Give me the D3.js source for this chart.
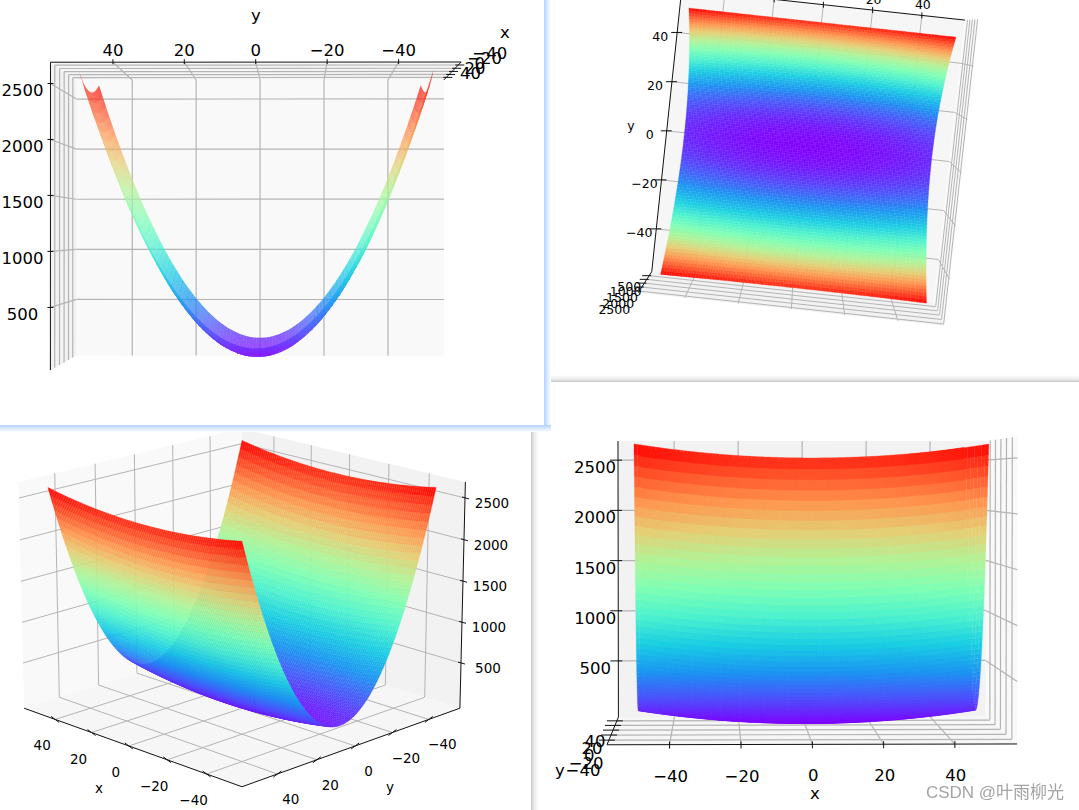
<!DOCTYPE html>
<html><head><meta charset="utf-8">
<style>html,body{margin:0;padding:0;background:#fff}svg{display:block;filter:blur(.35px)}text{font-family:"DejaVu Sans",sans-serif;fill:#000}</style>
<script src="https://cdn.jsdelivr.net/npm/d3@7/dist/d3.min.js"></script>
</head><body><div id="chart"></div>
<script>
// ---------- data ----------
const xGrid=[-50,-49,-48,-47,-46,-45,-44,-43,-42,-41,-40,-39,-38,-37,-36,-35,-34,-33,-32,-31,-30,-29,-28,-27,-26,-25,-24,-23,-22,-21,-20,-19,-18,-17,-16,-15,-14,-13,-12,-11,-10,-9,-8,-7,-6,-5,-4,-3,-2,-1,0,1,2,3,4,5,6,7,8,9,10,11,12,13,14,15,16,17,18,19,20,21,22,23,24,25,26,27,28,29,30,31,32,33,34,35,36,37,38,39,40,41,42,43,44,45,46,47,48,49,50];
const yGrid=xGrid.slice();
// height contributed by the x position (shallow bow of the valley)
const zAlongX=[125,120.05,115.2,110.45,105.8,101.25,96.8,92.45,88.2,84.05,80,76.05,72.2,68.45,64.8,61.25,57.8,54.45,51.2,48.05,45,42.05,39.2,36.45,33.8,31.25,28.8,26.45,24.2,22.05,20,18.05,16.2,14.45,12.8,11.25,9.8,8.45,7.2,6.05,5,4.05,3.2,2.45,1.8,1.25,0.8,0.45,0.2,0.05,0,0.05,0.2,0.45,0.8,1.25,1.8,2.45,3.2,4.05,5,6.05,7.2,8.45,9.8,11.25,12.8,14.45,16.2,18.05,20,22.05,24.2,26.45,28.8,31.25,33.8,36.45,39.2,42.05,45,48.05,51.2,54.45,57.8,61.25,64.8,68.45,72.2,76.05,80,84.05,88.2,92.45,96.8,101.25,105.8,110.45,115.2,120.05,125];
// height contributed by the y position (the steep valley walls)
const zAlongY=[2500,2401,2304,2209,2116,2025,1936,1849,1764,1681,1600,1521,1444,1369,1296,1225,1156,1089,1024,961,900,841,784,729,676,625,576,529,484,441,400,361,324,289,256,225,196,169,144,121,100,81,64,49,36,25,16,9,4,1,0,1,4,9,16,25,36,49,64,81,100,121,144,169,196,225,256,289,324,361,400,441,484,529,576,625,676,729,784,841,900,961,1024,1089,1156,1225,1296,1369,1444,1521,1600,1681,1764,1849,1936,2025,2116,2209,2304,2401,2500];
const xTicks=[-40,-20,0,20,40];
const yTicks=[-40,-20,0,20,40];
const zTicks=[500,1000,1500,2000,2500];
const xLim=[-57.5,57.5], yLim=[-57.5,57.5], zLim=[-60,2690];
const colorDomain=[0,0.1,0.2,0.3,0.4,0.5,0.6,0.7,0.8,0.9,1];
const rainbowStops=["#8000ff","#4d4ffc","#1a96f2","#1acee3","#4df2ce","#80ffb4","#b3f296","#e6ce74","#ff964f","#ff4f28","#ff0000"];

// ---------- scales ----------
const norm={x:d3.scaleLinear().domain(xLim).range([-.5,.5]),
            y:d3.scaleLinear().domain(yLim).range([-.5,.5]),
            z:d3.scaleLinear().domain(zLim).range([-.375,.375])};
const zFrac=d3.scaleLinear().domain([0,2625]).range([0,1]);
const color=d3.scaleLinear().domain(colorDomain).range(rainbowStops).interpolate(d3.interpolateRgb);
const lim={x:xLim,y:yLim,z:zLim}, ticksOf={x:xTicks,y:yTicks,z:zTicks};
const fmt=v=>String(v).replace("-","\u2212");
const paneFill={x:"#f9f9f9",y:"#f2f2f2",z:"#f6f6f6"};

// ---------- layout of the four views ----------
const views=[
 {id:"br",clip:[537,382,542,428],el:1.7,az:-91.5,S:388,zs:1,cx:807,cy:584.5,font:16.5,grid:1.2,seam:.3,
  walls:[["x",1],["y",1],["z",-1]],
  axes:{x:{fix:{y:-1,z:-1},off:[1,31.5],spread:0,tick:[0,-3,0,4]},
        y:{fix:{x:-1,z:-1},off:[-24,26],spread:.5,tick:[-10,0,6,0]},
        z:{fix:{x:-1,y:1},off:[-23,7.5],spread:0,tick:[-8,0,4,0]}},
  names:[["x",815,793],["y",560,770]]},
 {id:"bl",clip:[0,430,531,380],el:17.2,az:135,S:312,zs:1.012,cx:242,cy:596.5,font:13.5,grid:1,seam:.25,
  walls:[["x",1],["y",-1],["z",-1]],
  axes:{x:{fix:{y:1,z:-1},off:[-13,26],spread:0,tick:[-4,-3,4,3]},
        y:{fix:{x:-1,z:-1},off:[13.5,25],spread:0,tick:[-4,3,4,-3]},
        z:{fix:{x:-1,y:-1},off:[27,5],spread:0,tick:[-3,-1,4,1]}},
  names:[["x",99,788],["y",390,787]]},
 {id:"tr",clip:[545,0,534,376],el:92.6,az:-83.8,flip:true,S:296,zs:1,cx:808,cy:151,font:12.5,grid:1,seam:.3,
  walls:[["x",1],["y",-1],["z",-1]],
  axes:{x:{fix:{y:1,z:-1},off:[1,-10.5],spread:0,tick:[0,-3,0,3]},
        y:{fix:{x:-1,z:-1},off:[-17,4],spread:0,tick:[-6,0,5,0]},
        z:{fix:{x:-1,y:-1},off:[-22,14],spread:.5,tick:[-7,0,2,0]}},
  names:[["y",631,125]]},
 {id:"tl",clip:[0,0,544,425],el:-.24,az:180.64,S:388,zs:1,cx:258,cy:217,font:16.5,grid:1.2,seam:0,
  walls:[["x",1],["y",1],["z",1]],
  axes:{x:{fix:{y:-1,z:1},off:[28,-8],spread:.6,tick:[-3,0,6,0]},
        y:{fix:{x:-1,z:1},off:[0,-12],spread:0,tick:[0,-3,0,2]},
        z:{fix:{x:-1,y:1},off:[-28,7],spread:0,tick:[-3,0,3,0]}},
  names:[["y",256,15],["x",505,32]]}
];

function camera(v){
  const r=Math.PI/180,e=v.el*r,a=v.az*r,d=9;
  const w=[Math.cos(e)*Math.cos(a),Math.cos(e)*Math.sin(a),Math.sin(e)];
  const V=v.flip?-1:1;
  let u=[-V*w[1],V*w[0],0];
  const n=Math.hypot(u[0],u[1]);u=[u[0]/n,u[1]/n,0];
  const up=[w[1]*u[2]-w[2]*u[1],w[2]*u[0]-w[0]*u[2],w[0]*u[1]-w[1]*u[0]];
  const dot=(p,q)=>p[0]*q[0]+p[1]*q[1]+p[2]*q[2];
  return (x,y,z)=>{
    const p=[norm.x(x),norm.y(y),norm.z(z)*v.zs],k=d/(d-dot(p,w));
    return [v.cx+v.S*dot(p,u)*k, v.cy-v.S*dot(p,up)*k, dot(p,w)];
  };
}

const svg=d3.select("#chart").append("svg").attr("width",1079).attr("height",810);
const defs=svg.append("defs");
function grad(id,x2,y2,stops){
  const g=defs.append("linearGradient").attr("id",id).attr("x1",0).attr("y1",0).attr("x2",x2).attr("y2",y2);
  stops.forEach(s=>g.append("stop").attr("offset",s[0]).attr("stop-color",s[1]));
}
grad("shGrayDown",0,1,[[0,"#ffffff"],[.6,"#ececec"],[1,"#c8c8c8"]]);
grad("shGrayRight",1,0,[[0,"#c8c8c8"],[.4,"#ececec"],[1,"#ffffff"]]);
grad("glowRight",1,0,[[0,"#b4d3ff"],[.5,"#dceaff"],[1,"#ffffff"]]);
grad("glowDown",0,1,[[0,"#b4d3ff"],[.5,"#dceaff"],[1,"#ffffff"]]);

const line=d3.line();
const coord=(axis,val,o)=>{const c={x:0,y:0,z:0};c[axis]=val;Object.assign(c,o);return c;};
const side=(a,s)=>s>0?lim[a][1]:lim[a][0];

function drawView(v){
  const P=camera(v), pt=c=>P(c.x,c.y,c.z);
  defs.append("clipPath").attr("id","clip-"+v.id).append("rect")
    .attr("x",v.clip[0]).attr("y",v.clip[1]).attr("width",v.clip[2]).attr("height",v.clip[3]);
  const g=svg.append("g").attr("clip-path",`url(#clip-${v.id})`);
  g.append("rect").attr("x",v.clip[0]).attr("y",v.clip[1]).attr("width",v.clip[2]).attr("height",v.clip[3]).attr("fill","#fff");

  // panes and grid
  v.walls.forEach(([a,s])=>{
    const [b,c]=["x","y","z"].filter(k=>k!==a), val=side(a,s);
    const corner=(bv,cv)=>{const o={};o[a]=val;o[b]=bv;o[c]=cv;return pt(o).slice(0,2);};
    const [b0,b1]=lim[b],[c0,c1]=lim[c];
    g.append("path").attr("d",line([corner(b0,c0),corner(b1,c0),corner(b1,c1),corner(b0,c1)])+"Z")
      .attr("fill",paneFill[a]);
    const segs=[...ticksOf[b].map(t=>[corner(t,c0),corner(t,c1)]),...ticksOf[c].map(t=>[corner(b0,t),corner(b1,t)])];
    g.selectAll(null).data(segs).join("path").attr("d",line).attr("fill","none")
      .attr("stroke","#b4b4b4").attr("stroke-width",v.grid);
  });

  // axes, ticks, tick labels
  ["x","y","z"].forEach(a=>{
    const cfg=v.axes[a];
    const fixed=Object.fromEntries(Object.entries(cfg.fix).map(([k,s])=>[k,side(k,s)]));
    const e0=pt(coord(a,lim[a][0],fixed)), e1=pt(coord(a,lim[a][1],fixed));
    g.append("path").attr("d",line([e0.slice(0,2),e1.slice(0,2)])).attr("stroke","#111").attr("stroke-width",1).attr("fill","none");
    const mid=[(e0[0]+e1[0])/2,(e0[1]+e1[1])/2];
    ticksOf[a].forEach(t=>{
      const p=pt(coord(a,t,fixed));
      g.append("line").attr("x1",p[0]+cfg.tick[0]).attr("y1",p[1]+cfg.tick[1])
        .attr("x2",p[0]+cfg.tick[2]).attr("y2",p[1]+cfg.tick[3]).attr("stroke","#111").attr("stroke-width",1);
      g.append("text").attr("x",p[0]+cfg.off[0]+cfg.spread*(p[0]-mid[0]))
        .attr("y",p[1]+cfg.off[1]+cfg.spread*(p[1]-mid[1]))
        .attr("text-anchor","middle").attr("dominant-baseline","central")
        .attr("font-size",v.font).text(fmt(t));
    });
  });
  v.names.forEach(([t,x,y])=>g.append("text").attr("x",x).attr("y",y).attr("text-anchor","middle")
     .attr("dominant-baseline","central").attr("font-size",v.font).text(t));

  // surface cells, far to near
  const cells=[];
  for(let j=0;j<yGrid.length-1;j++)for(let i=0;i<xGrid.length-1;i++){
    const idx=[[i,j],[i+1,j],[i+1,j+1],[i,j+1]];
    const zs=idx.map(([a,b])=>zAlongX[a]+zAlongY[b]);
    const ps=idx.map(([a,b],n)=>P(xGrid[a],yGrid[b],zs[n]));
    cells.push({pts:ps.map(p=>[p[0],p[1]]),depth:d3.mean(ps,p=>p[2]),z:d3.mean(zs)});
  }
  cells.sort((a,b)=>a.depth-b.depth);
  g.append("g").selectAll("path").data(cells).join("path")
    .attr("d",d=>line(d.pts)+"Z").attr("fill",d=>color(zFrac(d.z)))
    .attr("stroke",d=>v.seam?color(zFrac(d.z)):"none").attr("stroke-width",v.seam);
}

views.slice(0,3).forEach(drawView);
// window edges behind the top-left window
svg.append("rect").attr("x",544).attr("y",375).attr("width",535).attr("height",7).attr("fill","url(#shGrayDown)");
svg.append("rect").attr("x",531).attr("y",425).attr("width",8).attr("height",385).attr("fill","url(#shGrayRight)");
drawView(views[3]);
svg.append("rect").attr("x",544).attr("y",0).attr("width",7).attr("height",431).attr("fill","url(#glowRight)");
svg.append("rect").attr("x",0).attr("y",425).attr("width",551).attr("height",7).attr("fill","url(#glowDown)");
svg.append("text").attr("x",995).attr("y",798).attr("text-anchor","middle")
  .attr("font-size",17).style("font-family",'"Liberation Sans","Noto Sans CJK SC",sans-serif').style("fill","#a4a4a4").text("CSDN @叶雨柳光");
</script></body></html>
